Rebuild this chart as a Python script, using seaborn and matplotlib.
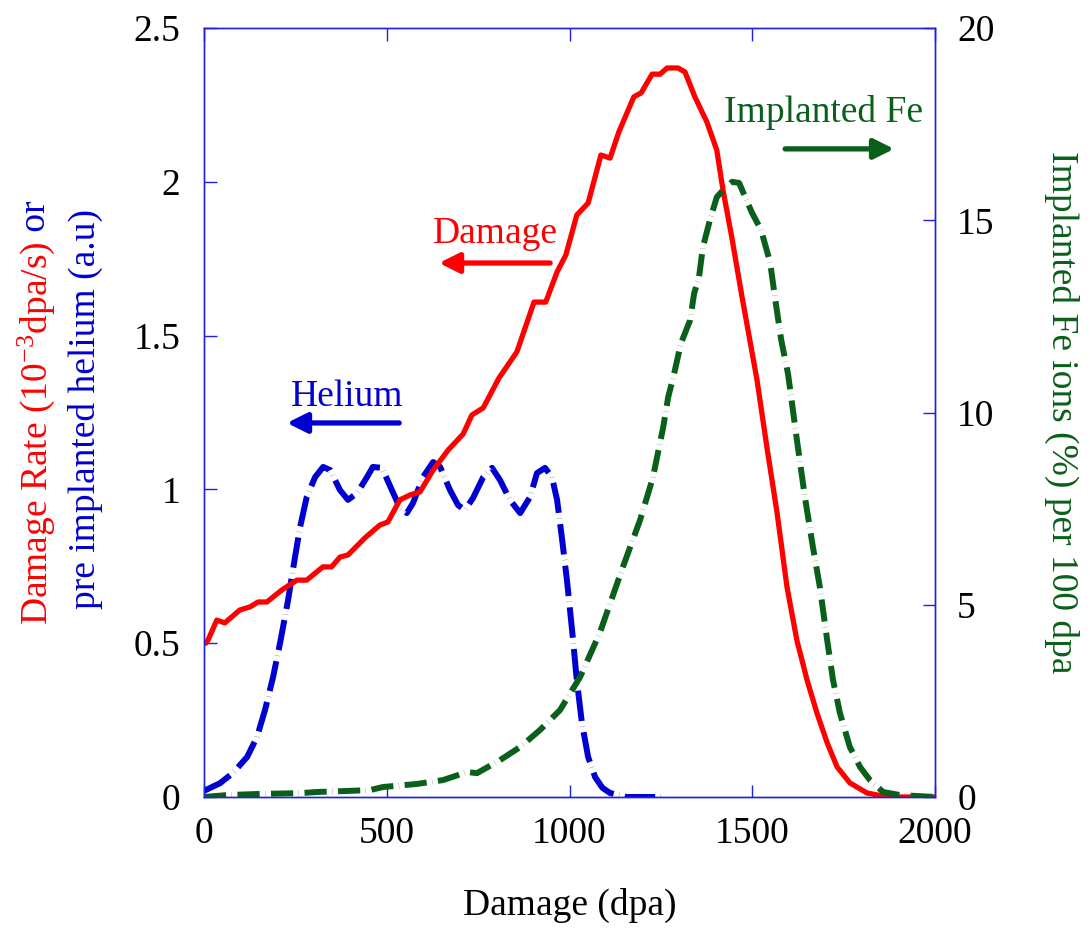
import matplotlib
matplotlib.use("Agg")
import matplotlib.pyplot as plt
import seaborn as sns
import pandas as pd

# ---------------- data ----------------
damage_x = [5, 11, 35, 57, 98, 126, 148, 172, 213, 254, 281, 325, 349, 372, 394, 440, 481, 503,
            536, 564, 591, 627, 668, 709, 733, 764, 807, 856, 903, 935, 966, 990, 1020, 1051,
            1086, 1111, 1135, 1176, 1196, 1226, 1248, 1267, 1297, 1316, 1343, 1376, 1403, 1420,
            1444, 1472, 1513, 1540, 1568, 1595, 1622, 1650, 1677, 1705, 1732, 1767, 1814, 1858,
            1900, 2000]
damage_y = [0.50, 0.51, 0.575, 0.566, 0.608, 0.618, 0.634, 0.634, 0.673, 0.705, 0.705, 0.748,
            0.748, 0.78, 0.787, 0.842, 0.884, 0.894, 0.966, 0.982, 0.992, 1.063, 1.128, 1.18,
            1.242, 1.265, 1.362, 1.447, 1.609, 1.609, 1.707, 1.762, 1.892, 1.931, 2.087, 2.077,
            2.162, 2.276, 2.289, 2.35, 2.35, 2.37, 2.37, 2.357, 2.276, 2.194, 2.103, 1.973,
            1.82, 1.626, 1.356, 1.138, 0.923, 0.683, 0.51, 0.38, 0.273, 0.176, 0.098, 0.046,
            0.013, 0.003, 0.0, 0.0]

helium_x = [0, 44, 79, 118, 145, 167, 189, 208, 230, 249, 263, 281, 304, 326, 345, 372, 394,
            419, 446, 462, 487, 514, 536, 555, 572, 599, 627, 646, 673, 695, 714, 736, 764, 788,
            810, 837, 865, 892, 911, 933, 952, 966, 979, 993, 1007, 1020, 1034, 1051, 1070,
            1090, 1111, 1157, 1253]
helium_y = [0.02, 0.045, 0.078, 0.13, 0.195, 0.283, 0.39, 0.5, 0.64, 0.78, 0.878, 0.975, 1.04,
            1.073, 1.063, 0.998, 0.966, 0.988, 1.04, 1.073, 1.07, 0.998, 0.94, 0.923, 0.956,
            1.04, 1.089, 1.073, 0.998, 0.949, 0.933, 0.972, 1.04, 1.07, 1.03, 0.966, 0.923,
            0.975, 1.053, 1.07, 1.04, 0.966, 0.845, 0.705, 0.543, 0.38, 0.24, 0.13, 0.065,
            0.03, 0.013, 0.0, 0.0]

fe_x = [0, 63, 153, 263, 309, 400, 454, 490, 583, 654, 720, 747, 810, 865, 919, 974, 1029,
        1083, 1146, 1193, 1228, 1256, 1270, 1286, 1305, 1330, 1341, 1354, 1365, 1384, 1403,
        1428, 1445, 1464, 1499, 1524, 1549, 1562, 1579, 1598, 1622, 1644, 1666, 1685, 1705,
        1721, 1740, 1767, 1795, 1822, 1858, 1904, 2000]
fe_y = [0.0, 0.05, 0.08, 0.1, 0.13, 0.16, 0.18, 0.26, 0.34, 0.44, 0.65, 0.62, 0.96, 1.3, 1.74,
        2.26, 3.12, 4.27, 5.98, 7.2, 8.3, 9.6, 10.4, 11.0, 11.8, 12.4, 13.1, 13.5, 14.3, 15.0,
        15.6, 15.87, 16.0, 15.97, 15.2, 14.75, 13.9, 13.0, 11.9, 11.0, 9.3, 7.8, 6.5, 5.46,
        4.08, 3.04, 2.18, 1.3, 0.78, 0.44, 0.13, 0.05, 0.0]

x_ticks = [0, 500, 1000, 1500, 2000]
left_ticks = [0, 0.5, 1, 1.5, 2, 2.5]
left_tick_labels = ["0", "0.5", "1", "1.5", "2", "2.5"]
right_ticks = [0, 5, 10, 15, 20]
right_tick_labels = ["0", "5", "10", "15", "20"]

RED = "#ff0000"
BLUE = "#0000d0"
GREEN = "#0a5f1a"
SPINE = "#2020e0"

# ---------------- style ----------------
sns.set_theme(style="white")
plt.rcParams["font.family"] = ["Liberation Serif", "DejaVu Serif"]
plt.rcParams["mathtext.fontset"] = "custom"
plt.rcParams["mathtext.rm"] = "Liberation Serif"
plt.rcParams["mathtext.it"] = "Liberation Serif:italic"
plt.rcParams["lines.scale_dashes"] = False

FS = 27

fig = plt.figure(figsize=(10.9, 9.32), dpi=100)
W, H = 1090, 932
ax = fig.add_axes([204 / W, 1 - 797 / H, (935 - 204) / W, (797 - 28) / H])
ax2 = ax.twinx()

df_d = pd.DataFrame({"x": damage_x, "y": damage_y})
df_h = pd.DataFrame({"x": helium_x, "y": helium_y})
df_f = pd.DataFrame({"x": fe_x, "y": fe_y})

sns.lineplot(data=df_h, x="x", y="y", ax=ax, color=BLUE, linewidth=4.3,
             estimator=None, sort=False)
ax.lines[-1].set_linestyle((0, (22, 4, 0.15, 4)))
ax.lines[-1].set_dash_capstyle("butt")
sns.lineplot(data=df_d, x="x", y="y", ax=ax, color=RED, linewidth=3.8,
             estimator=None, sort=False)

sns.lineplot(data=df_f, x="x", y="y", ax=ax2, color=GREEN, linewidth=4.3,
             estimator=None, sort=False)
ax2.lines[-1].set_linestyle((0, (16, 4, 0.15, 4)))
ax2.lines[-1].set_dash_capstyle("butt")

ax.set_xlim(0, 2000)
ax.set_ylim(0, 2.5)
ax2.set_ylim(0, 20)

ax.set_xticks(x_ticks)
ax.set_xticklabels([str(t) for t in x_ticks])
ax.set_yticks(left_ticks)
ax.set_yticklabels(left_tick_labels)
ax2.set_yticks(right_ticks)
ax2.set_yticklabels(right_tick_labels)

for a in (ax, ax2):
    for s in a.spines.values():
        s.set_color(SPINE)
        s.set_linewidth(1.0)
        s.set_visible(True)
    a.grid(False)

ax.tick_params(axis="x", which="both", direction="in", length=9, width=1.0, color=SPINE,
               labelsize=FS, labelcolor="black", pad=14, top=True, bottom=True)
ax.tick_params(axis="y", direction="in", length=9, width=1.0, color=SPINE,
               labelsize=FS, labelcolor="black", pad=17, left=True, right=False)
ax2.tick_params(axis="y", direction="in", length=9, width=1.0, color=SPINE,
                labelsize=FS, labelcolor="black", pad=16, right=True, left=False)

ax.set_xlabel("Damage (dpa)", fontsize=FS, color="black")
ax.xaxis.set_label_coords(0.5, -0.118)
ax.set_ylabel("")
ax2.set_ylabel("")

# ---------------- annotations ----------------
arrow_kw = dict(arrowstyle="-|>", mutation_scale=30, shrinkA=0, shrinkB=0, lw=3.8)
ax.annotate("", xy=(643, 1.736), xytext=(947, 1.736),
            arrowprops=dict(color=RED, **arrow_kw))
ax.text(796, 1.80, "Damage", color=RED, fontsize=FS, ha="center", va="baseline")

ax.annotate("", xy=(227, 1.216), xytext=(534, 1.216),
            arrowprops=dict(color=BLUE, **arrow_kw))
ax.text(391, 1.271, "Helium", color=BLUE, fontsize=FS, ha="center", va="baseline")

ax.annotate("", xy=(1888, 2.107), xytext=(1590, 2.107),
            arrowprops=dict(color=GREEN, **arrow_kw))
ax.text(1696, 2.194, "Implanted Fe", color=GREEN, fontsize=FS, ha="center", va="baseline")

# ---------------- multi-colour left y label ----------------
t1 = fig.text(36 / W, 1 - 625 / H, r"Damage Rate (10$^{-3}$dpa/s)", color=RED, fontsize=FS,
              rotation=90, ha="center", va="bottom")
fig.canvas.draw()
bb = t1.get_window_extent()
fig.text(36 / W, (bb.y1) / (H), " or", color=BLUE, fontsize=FS, rotation=90,
         ha="center", va="bottom")
fig.text(85 / W, 1 - 409 / H, "pre implanted helium (a.u)", color=BLUE, fontsize=FS,
         rotation=90, ha="center", va="center")

# right label
fig.text(1062 / W, 1 - 412 / H, "Implanted Fe ions (%) per 100 dpa", color=GREEN,
         fontsize=FS, rotation=270, ha="center", va="center")

fig.savefig("out.png", dpi=100, facecolor="white")
